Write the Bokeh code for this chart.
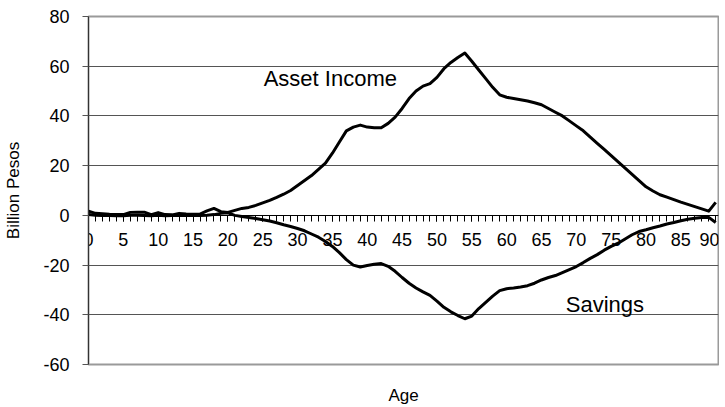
import math
from bokeh.plotting import figure
from bokeh.models import FixedTicker, Label, LinearAxis
from bokeh.embed import file_html
from bokeh.resources import INLINE

ages = list(range(91))
asset_income = [
    1.7, 0.8, 0.6, 0.4, 0.3, 0.3, 1.2, 1.3, 1.3, 0.3,
    1.1, 0.3, 0.2, 0.8, 0.5, 0.4, 0.5, 1.8, 2.8, 1.5,
    1.2, 2.0, 2.8, 3.2, 4.0, 5.0, 6.0, 7.2, 8.5, 10.0,
    12.0, 14.0, 16.0, 18.5, 21.0, 25.0, 29.5, 34.0, 35.5, 36.3,
    35.5, 35.2, 35.2, 37.0, 39.5, 43.0, 47.0, 50.0, 52.0, 53.0,
    55.5, 59.0, 61.5, 63.5, 65.3, 62.0, 58.5, 55.0, 51.5, 48.5,
    47.5, 47.0, 46.5, 46.0, 45.3, 44.5, 43.0, 41.5, 40.0, 38.0,
    36.0, 34.0, 31.5, 29.0, 26.5, 24.0, 21.5, 19.0, 16.5, 14.0,
    11.5, 9.8, 8.3, 7.3, 6.3, 5.3, 4.4, 3.5, 2.6, 1.7, 5.2,
]
savings = [
    0.3, 0.0, -0.1, -0.1, -0.2, -0.2, 0.0, 0.0, -0.1, -0.2,
    0.0, -0.2, -0.1, 0.0, -0.1, -0.1, -0.1, 0.0, 0.3, 0.8,
    1.0, 0.0, -0.5, -0.9, -1.3, -1.8, -2.3, -3.0, -3.8, -4.5,
    -5.3, -6.2, -7.5, -8.8, -10.5, -12.5, -15.0, -17.8, -20.0, -20.8,
    -20.2, -19.7, -19.4, -20.5, -22.5, -25.0, -27.3, -29.2, -30.8, -32.2,
    -34.5, -37.0, -38.8, -40.3, -41.6, -40.5, -37.5, -35.0, -32.5, -30.3,
    -29.5, -29.2, -28.8, -28.3, -27.3, -26.0, -25.0, -24.2, -23.0, -21.8,
    -20.6, -19.0, -17.3, -15.8, -14.0, -12.5, -11.2, -9.5, -7.8, -6.5,
    -5.8, -5.0, -4.3, -3.5, -2.9, -2.2, -1.6, -1.2, -0.9, -0.8, -2.9,
]
x_ticks = list(range(0, 91, 5))
y_ticks = [-60, -40, -20, 0, 20, 40, 60, 80]
y_tick_labels = ["-60", "-40", "-20", "0", "20", "40", "60", "80"]

FONT = "Liberation Sans"

p = figure(width=719, height=407, x_range=(0, 90.4), y_range=(-60, 80),
           output_backend="svg", toolbar_location=None,
           min_border_left=88, min_border_right=1, min_border_top=16,
           min_border_bottom=42)
p.background_fill_color = "white"
p.border_fill_color = "white"
p.outline_line_color = "#9a9a9a"
p.outline_line_width = 2

p.line(ages, asset_income, line_color="black", line_width=3, line_join="round")
p.line(ages, savings, line_color="black", line_width=3, line_join="round")

# x axis drawn at y = 0
xa = p.xaxis[0]
xa.fixed_location = 0
xa.ticker = FixedTicker(ticks=x_ticks, minor_ticks=ages)
xa.axis_line_color = "black"
xa.major_tick_line_color = "black"
xa.minor_tick_line_color = "black"
xa.major_tick_in = 0
xa.major_tick_out = 6
xa.minor_tick_in = 0
xa.minor_tick_out = 6
xa.major_label_standoff = 12
xa.major_label_text_font = FONT
xa.major_label_text_font_size = "18px"
xa.major_label_text_color = "black"

# axis carrying only the "Age" title under the plot area
age_axis = LinearAxis(ticker=FixedTicker(ticks=[]), axis_label="Age",
                      axis_line_color=None, major_tick_line_color=None,
                      minor_tick_line_color=None, major_tick_out=0,
                      minor_tick_out=0, major_tick_in=0, minor_tick_in=0,
                      major_label_standoff=0, axis_label_standoff=21,
                      axis_label_text_font=FONT,
                      axis_label_text_font_style="normal",
                      axis_label_text_font_size="17px",
                      axis_label_text_color="black")
p.add_layout(age_axis, "below")

ya = p.yaxis[0]
ya.ticker = FixedTicker(ticks=y_ticks)
ya.major_label_overrides = dict(zip(y_ticks, y_tick_labels))
ya.axis_line_color = "#333333"
ya.major_tick_line_color = "#555555"
ya.minor_tick_line_color = None
ya.major_tick_in = 0
ya.major_tick_out = 6
ya.major_label_standoff = 13
ya.major_label_text_font = FONT
ya.major_label_text_font_size = "18px"
ya.major_label_text_color = "black"
ya.axis_label = "Billion Pesos"
ya.axis_label_standoff = 17
ya.axis_label_text_font = FONT
ya.axis_label_text_font_style = "normal"
ya.axis_label_text_font_size = "17px"
ya.axis_label_text_color = "black"

p.xgrid.visible = False
p.ygrid.ticker = FixedTicker(ticks=y_ticks)
p.ygrid.grid_line_color = "#555555"
p.ygrid.grid_line_width = 1

p.add_layout(Label(x=34.7, y=55.0, text="Asset Income", text_align="center",
                   text_baseline="alphabetic", text_font=FONT,
                   text_font_size="22px", text_color="black"))
p.add_layout(Label(x=74.1, y=-36.0, text="Savings", text_align="center",
                   text_baseline="alphabetic", text_font=FONT,
                   text_font_size="22px", text_color="black"))

open("out.html", "w").write(file_html(p, INLINE))
